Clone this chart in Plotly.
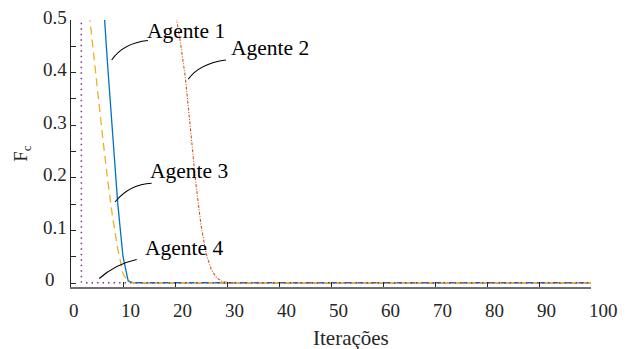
import plotly.graph_objects as go

# ---------------- data ----------------
agente1_x = [1, 2, 3, 4, 5, 6, 7, 8, 9, 10, 11, 12, 100]
agente1_y = [5.0, 3.0, 1.8, 1.1, 0.8, 0.57, 0.42, 0.285, 0.15, 0.05, 0.004, 0.0005, 0.0005]

agente2_x = [15, 16, 17, 18, 19, 20, 21, 22, 23, 24, 25, 26, 27, 28, 29, 30, 31, 100]
agente2_y = [2.5, 1.6, 1.1, 0.8, 0.62, 0.52, 0.46, 0.39, 0.29, 0.19, 0.11, 0.055,
             0.025, 0.01, 0.003, 0.001, 0.0005, 0.0005]

agente3_x = [1, 2, 3, 4, 5, 6, 7, 8, 9, 10, 11, 12, 100]
agente3_y = [1.5, 0.75, 0.56, 0.465, 0.37, 0.285, 0.2, 0.125, 0.065, 0.018, 0.002, 0.0005, 0.0005]

agente4_x = [1, 2, 3, 100]
agente4_y = [30.0, 0.002, 0.0005, 0.0005]

series_names = ["Agente 1", "Agente 2", "Agente 3", "Agente 4"]
x_ticks = [0, 10, 20, 30, 40, 50, 60, 70, 80, 90, 100]
x_ticklabels = ["0", "10", "20", "30", "40", "50", "60", "70", "80", "90", "100"]
y_ticks = [0, 0.1, 0.2, 0.3, 0.4, 0.5]
y_ticklabels = ["0", "0.1", "0.2", "0.3", "0.4", "0.5"]
x_title = "Iterações"
y_title = "F<sub>c</sub>"

# ---------------- layout geometry ----------------
W, H = 629, 349
L, R, T, B = 71, 37.5, 20, 62
XR = [0, 100]
YR = [-0.0076, 0.5]
FONT = "Liberation Serif, Times New Roman, serif"
TICKCOL = "#262626"

pw = W - L - R
ph = H - T - B


def dx(px):
    return XR[0] + (px - L) / pw * (XR[1] - XR[0])


def dy(py):
    return YR[1] - (py - T) / ph * (YR[1] - YR[0])


fig = go.Figure()
styles = [
    dict(color="#0072BD", width=1.3, dash="solid"),
    dict(color="#D95319", width=1.1, dash="3px,1.5px,1px,1.5px"),
    dict(color="#EDB120", width=1.3, dash="8px,5px"),
    dict(color="#7E2F8E", width=1.5, dash="1.5px,4px"),
]
data = [(agente1_x, agente1_y), (agente2_x, agente2_y),
        (agente3_x, agente3_y), (agente4_x, agente4_y)]
for (xs, ys), name, st in zip(data, series_names, styles):
    fig.add_trace(go.Scatter(x=xs, y=ys, mode="lines", name=name, line=st,
                             showlegend=False, hoverinfo="skip"))

# label annotations: (text, left px, centre px) and curve (P0, C, P2) in px
labels = [
    ("Agente 1", 145, 30.5, (111.7, 60), (123.5, 43), (148, 40.5)),
    ("Agente 2", 229, 47.5, (188.3, 79.3), (199.4, 63.7), (226, 60)),
    ("Agente 3", 148.5, 170.5, (115, 202), (130, 184.1), (151.7, 183.3)),
    ("Agente 4", 143.5, 248, (99.3, 278.5), (115.4, 264.2), (136.7, 259.5)),
]
annotations = []
shapes = []
for text, lx, cy, p0, c, p2 in labels:
    annotations.append(dict(x=dx(lx), y=dy(cy), xref="x", yref="y", text=text,
                            showarrow=False, xanchor="left", yanchor="middle",
                            font=dict(family=FONT, size=21.5, color="#000000")))
    path = "M {} {} Q {} {} {} {}".format(dx(p0[0]), dy(p0[1]), dx(c[0]), dy(c[1]),
                                          dx(p2[0]), dy(p2[1]))
    shapes.append(dict(type="path", path=path, xref="x", yref="y",
                       line=dict(color="#000000", width=1.1)))

# tick labels (serif), placed at the axis tick values
for v, t in zip(x_ticks, x_ticklabels):
    annotations.append(dict(x=v, y=(H - B - 310) / ph, xref="x", yref="paper", text=t,
                            showarrow=False, xanchor="left", yanchor="middle", xshift=-4,
                            font=dict(family=FONT, size=19, color=TICKCOL)))
for v, t in zip(y_ticks, y_ticklabels):
    if t == "0":
        annotations.append(dict(x=(50 - L) / pw, y=v, xref="paper", yref="y", text=t,
                                showarrow=False, xanchor="center", yanchor="middle",
                                yshift=4, font=dict(family=FONT, size=19, color=TICKCOL)))
    else:
        annotations.append(dict(x=0, y=v, xref="paper", yref="y", text=t,
                                showarrow=False, xanchor="right", yanchor="middle",
                                xshift=-2.5, yshift=3,
                                font=dict(family=FONT, size=19, color=TICKCOL)))

annotations.append(dict(x=(351 - L) / pw, y=(H - B - 338) / ph, xref="paper", yref="paper",
                        text=x_title, showarrow=False, xanchor="center", yanchor="middle",
                        font=dict(family=FONT, size=21, color=TICKCOL)))

fig.update_layout(
    width=W, height=H,
    margin=dict(l=L, r=R, t=T, b=B, autoexpand=False),
    paper_bgcolor="white", plot_bgcolor="white",
    font=dict(family=FONT, size=19, color=TICKCOL),
    annotations=annotations, shapes=shapes,
    showlegend=False,
    xaxis=dict(
        range=XR, tickmode="array", tickvals=x_ticks, ticktext=x_ticklabels,
        showticklabels=False,
        ticks="inside", ticklen=5, tickcolor=TICKCOL,
        showline=True, linecolor="#707070", linewidth=2, showgrid=False, zeroline=False,
    ),
    yaxis=dict(
        range=YR, tickmode="array", tickvals=y_ticks, ticktext=y_ticklabels,
        showticklabels=False,
        ticks="inside", ticklen=5,
        tickcolor=TICKCOL, showline=True, linecolor=TICKCOL, linewidth=1,
        showgrid=False, zeroline=False,
        minor=dict(dtick=0.05, tick0=0, ticks="inside", ticklen=5, tickcolor=TICKCOL),
        title=dict(text=y_title, font=dict(family=FONT, size=19, color=TICKCOL), standoff=37),
    ),
)

fig.write_html("out.html", config={"displayModeBar": False},
               post_script="document.body.style.margin='0px';")
